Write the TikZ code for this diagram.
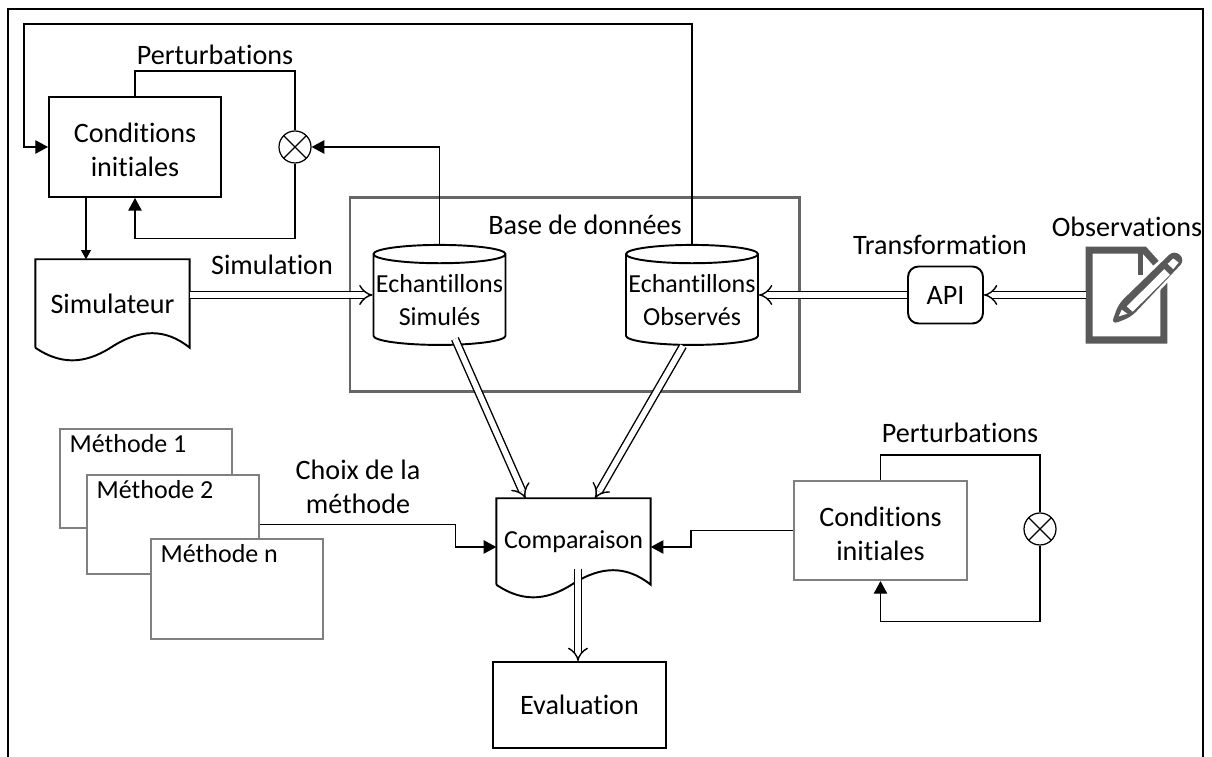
\documentclass[tikz,border=0pt]{standalone}
\usepackage{fontspec}
\setmainfont[Ligatures=NoCommon]{Carlito}
\usetikzlibrary{arrows.meta,shapes.geometric}
\definecolor{grisbox}{HTML}{808080}
\definecolor{grisbase}{HTML}{666666}
\definecolor{grisicone}{HTML}{595959}
\tikzset{
	every node/.style={font=\fontsize{8}{9.7}\selectfont,align=center,inner sep=0pt},
	petit/.style={font=\fontsize{7.4}{9.4}\selectfont},
	lien/.style={line width=0.35pt},
	fleche/.style={lien,-{Triangle[length=3.6pt,width=3.8pt]}},
	flechedouble/.style={line width=0.4pt,double,double distance=1.6pt,-{Implies}},
	boite/.style={draw,line width=0.55pt,fill=white},
	boitegrise/.style={draw=grisbox,line width=0.6pt,fill=white},
	methode/.style={boitegrise,minimum width=1.72cm,minimum height=0.99cm},
	nommethode/.style={petit,anchor=north west,xshift=0.1cm,yshift=-0.06cm},
	textecond/.style={label={[yshift=-0.03cm]center:Conditions\\initiales}},
	cuve/.style={draw,line width=0.55pt,petit,cylinder,shape border rotate=90,aspect=0.144,minimum width=1.32cm,minimum height=1cm},
	somme/.style={draw,lien,fill=white,circle,minimum size=0.32cm,path picture={
		\draw[lien] (path picture bounding box.north west) -- (path picture bounding box.south east);
		\draw[lien] (path picture bounding box.north east) -- (path picture bounding box.south west);}},
}
\newcommand{\feuille}[1]{
		\draw[line width=0.55pt] (#1.south west) -- (#1.north west) -- (#1.north east) -- (#1.south east)
			.. controls ([shift={(-0.25,0.2)}]#1.south east) and ([shift={(-0.5,0.18)}]#1.south east) .. ([shift={(-0.76,0.02)}]#1.south east)
			.. controls ([shift={(-1,-0.14)}]#1.south east) and ([shift={(-1.25,-0.2)}]#1.south east) .. (#1.south west);
}
\begin{document}
\begin{tikzpicture}
		\useasboundingbox (0,0) rectangle (12.12,7.57);
		\draw[line width=0.45pt] (0.08,0) -- (0.08,7.48) -- (12.03,7.48) -- (12.03,0);
		\node[draw=grisbase,line width=0.85pt,minimum width=4.49cm,minimum height=1.94cm] (base) at (5.745,4.62) {};
		\node (nombase) at (5.85,5.32) {Base de données};
		\node[boite,textecond,minimum width=1.72cm,minimum height=1cm] (cond1) at (1.35,6.10) {};
		\node[somme] (sum1) at (2.95,6.10) {};
		\node (pert1) at (2.15,7.02) {Perturbations};
		\node[minimum width=1.53cm,minimum height=0.87cm] (simu) at (1.125,4.535) {Simulateur};
		\feuille{simu}
		\node (nomsimu) at (2.72,4.92) {Simulation};
		\node[cuve] (ech1) at (4.395,4.57) {Echantillons\\Simulés};
		\node[cuve] (ech2) at (6.92,4.57) {Echantillons\\Observés};
		\node[boite,rounded corners=3pt,minimum width=0.75cm,minimum height=0.57cm] (api) at (9.455,4.62) {API};
		\node (nomapi) at (9.40,5.12) {Transformation};
		\node[minimum width=0.8cm,minimum height=0.97cm] (obs) at (11.27,4.62) {};
		\node (nomobs) at (11.27,5.30) {Observations};
		\begin{scope}[shift={(8.40,5.67)},x=0.003333cm,y=-0.003333cm]
			\draw[grisicone,line width=2pt,line join=miter] (974,280) -- (974,451) -- (749,451) -- (749,181) -- (915,181) -- (950,220);
			\fill[grisicone] (897,190) rectangle (912,255);
			\draw[white,line width=1.5pt,fill=grisicone,line join=round] (815,405) -- (838,342) -- (1005,180) -- (1038,210) -- (875,382) -- cycle;
			\fill[grisicone,rounded corners=2pt] (815,405) -- (838,342) -- (1005,180) -- (1038,210) -- (875,382) -- cycle;
			\fill[white] (862,350) -- (975,238) -- (992,255) -- (880,366) -- cycle;
			\fill[white] (985,222) -- (1002,206) -- (1018,218) -- (1002,238) -- cycle;
			\fill[white] (838,380) -- (847,360) -- (864,372) -- cycle;
		\end{scope}
		\node[methode,label={[nommethode]north west:Méthode 1}] (m1) at (1.46,2.785) {};
		\node[methode,label={[nommethode]north west:Méthode 2}] (m2) at (1.73,2.325) {};
		\node[methode,minimum height=1cm,label={[nommethode]north west:Méthode n}] (mn) at (2.37,1.68) {};
		\node (nomchoix) at (3.58,2.70) {Choix de la\\méthode};
		\node[petit,minimum width=1.53cm,minimum height=0.85cm] (comp) at (5.735,2.155) {Comparaison};
		\feuille{comp}
		\node[boite,minimum width=1.73cm,minimum height=0.86cm] (eval) at (5.795,0.52) {Evaluation};
		\node[boitegrise,textecond,minimum width=1.73cm,minimum height=0.99cm] (cond2) at (8.805,2.265) {};
		\node[somme] (sum2) at (10.40,2.28) {};
		\node (pert2) at (9.60,3.24) {Perturbations};
		\coordinate (haut) at (0.24,7.33);
		\coordinate (sortie) at ([xshift=-0.49cm]cond1.south);
		\draw[fleche] (ech2.north) |- (haut) |- (cond1.west);
		\draw[lien] (cond1.north) -- ++(0,0.25) -| (sum1.north);
		\draw[fleche] (sum1.south) -- ++(0,-0.75) -| (cond1.south);
		\draw[fleche] (ech1.north) |- (sum1.east);
		\draw[lien,-{Triangle[length=2.6pt,width=2.8pt]}] (sortie) -- (sortie |- simu.north);
		\draw[flechedouble] (simu.east |- api) -- (ech1.west |- api);
		\draw[flechedouble] (api.west) -- (ech2.east |- api);
		\draw[flechedouble] (obs.west) -- (api.east);
		\draw[flechedouble] ([xshift=0.155cm,yshift=0.07cm]ech1.south) -- ([xshift=-0.48cm]comp.north);
		\draw[flechedouble] ([xshift=-0.09cm]ech2.south) -- ([xshift=0.215cm]comp.north);
		\draw[flechedouble] ([xshift=0.045cm,yshift=0.16cm]comp.south) -- ([xshift=-0.015cm]eval.north);
		\draw[fleche] (m2.east) -- ++(1.955,0) |- ([yshift=-0.055cm]comp.west);
		\draw[fleche] (cond2.west) -- ++(-1.02,0) |- ([yshift=-0.055cm]comp.east);
		\draw[lien] (cond2.north) -- ++(0,0.25) -| (sum2.north);
		\draw[fleche] (sum2.south) -- ++(0,-0.76) -| (cond2.south);
	\end{tikzpicture}
\end{document}
